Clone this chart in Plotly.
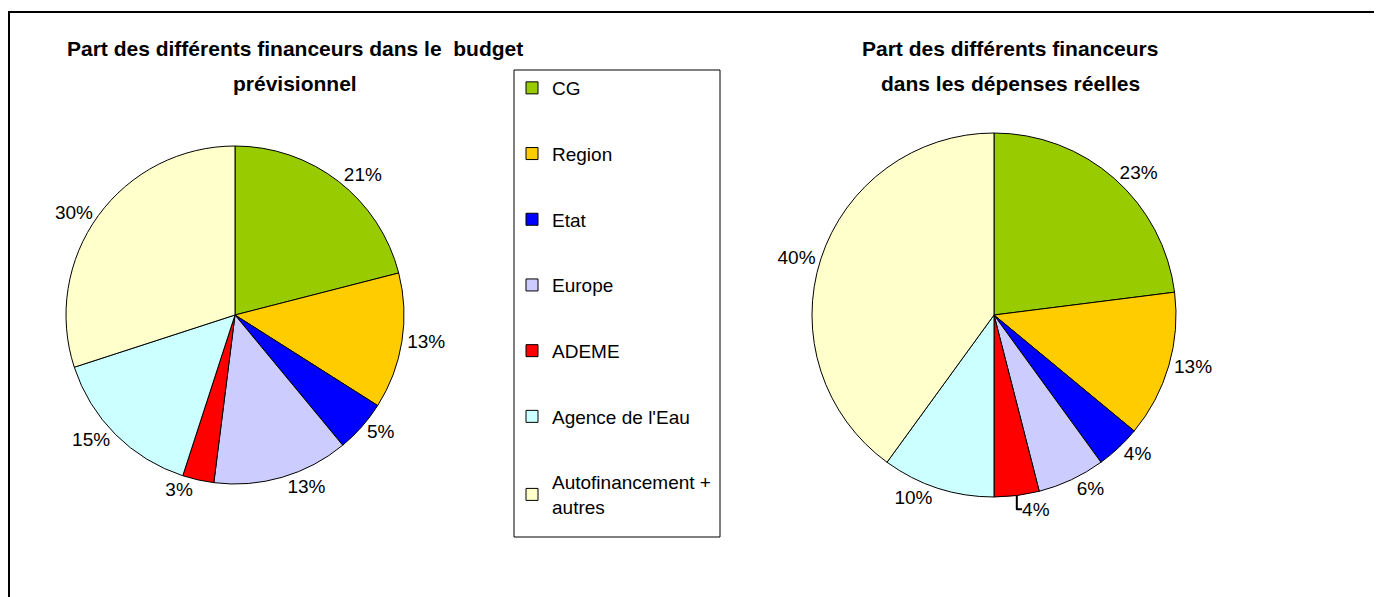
import plotly.graph_objects as go

categories = ["CG", "Region", "Etat", "Europe", "ADEME", "Agence de l'Eau", "Autofinancement +<br>autres"]
budget_previsionnel = [21, 13, 5, 13, 3, 15, 30]
depenses_reelles = [23, 13, 4, 6, 4, 10, 40]
colors = ["#99CC00", "#FFCC00", "#0000FF", "#CCCCFF", "#FF0000", "#CCFFFF", "#FFFFCC"]

title_left = ["Part des différents financeurs dans le  budget", "prévisionnel"]
title_right = ["Part des différents financeurs", "dans les dépenses réelles"]

W, H = 1382, 597
OFF = 8  # page body margin offset
FONT = "Liberation Sans, Arial, sans-serif"

def px(x):
    return (x - OFF) / W

def py(y):
    return 1 - (y - OFF) / H

def dom(cx, cy, r):
    return dict(x=[px(cx - r), px(cx + r)], y=[py(cy + r), py(cy - r)])

fig = go.Figure()

for vals, (cx, cy, r) in [(budget_previsionnel, (235, 315, 169)), (depenses_reelles, (994, 315, 182))]:
    fig.add_trace(go.Pie(
        labels=categories, values=vals, sort=False, direction="clockwise", rotation=0,
        marker=dict(colors=colors, line=dict(color="black", width=1)),
        textposition="outside", texttemplate="%{percent:.0%}",
        textfont=dict(family=FONT, size=19, color="black"),
        showlegend=False, domain=dom(cx, cy, r), hoverinfo="label+percent",
    ))

for i, (cat, col) in enumerate(zip(categories, colors)):
    fig.add_trace(go.Scatter(
        x=[None], y=[None], mode="markers", name=cat, legendgroup=f"g{i}",
        marker=dict(symbol="square", size=12, color=col, line=dict(color="black", width=1)),
        showlegend=True,
    ))

annotations = []
for lines, cx in [(title_left, 295), (title_right, 1010)]:
    for text, cy in zip(lines, [48, 83]):
        annotations.append(dict(
            text="<b>" + text + "</b>", x=px(cx), y=py(cy), xref="paper", yref="paper",
            xanchor="center", yanchor="middle", showarrow=False,
            font=dict(family=FONT, size=21, color="black")))

fig.update_layout(
    width=W, height=H,
    margin=dict(l=0, r=0, t=0, b=0),
    paper_bgcolor="white", plot_bgcolor="white",
    xaxis=dict(visible=False), yaxis=dict(visible=False),
    legend=dict(
        x=px(512), y=py(69), xanchor="left", yanchor="top",
        font=dict(family=FONT, size=19, color="black"),
        tracegroupgap=38, itemwidth=30, bgcolor="rgba(0,0,0,0)",
    ),
    annotations=annotations,
    shapes=[
        dict(type="rect", xref="paper", yref="paper", x0=px(9), x1=1.01, y0=-0.01, y1=py(12),
             line=dict(color="black", width=2)),
        dict(type="rect", xref="paper", yref="paper", x0=px(514), x1=px(720), y0=py(537), y1=py(70),
             line=dict(color="black", width=1)),
    ],
)

fig.write_html("out.html")
